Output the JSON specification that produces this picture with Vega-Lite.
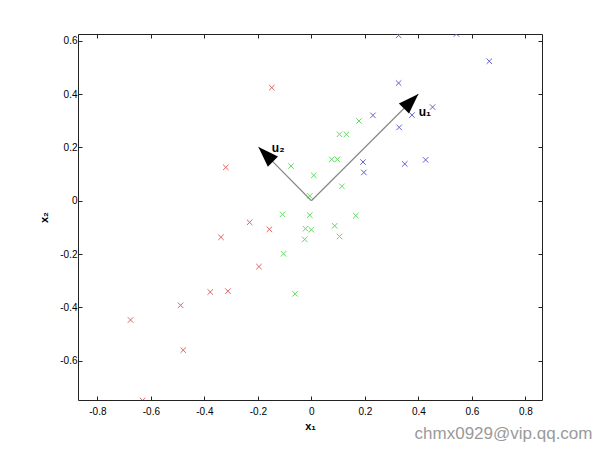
{
  "$schema": "https://vega.github.io/schema/vega-lite/v6.json",
  "width": 464,
  "height": 366,
  "autosize": "none",
  "padding": {"left": 78, "top": 34, "right": 58, "bottom": 50},
  "background": "white",
  "config": {
    "view": {"stroke": "#222", "strokeWidth": 1},
    "axis": {"domain": false, "grid": false, "tickColor": "#222", "tickSize": -4, "labelFont": "Liberation Sans", "labelFontSize": 10, "labelColor": "#000", "titleFont": "Liberation Sans", "titleFontSize": 11, "titleFontWeight": "bold", "titleColor": "#000"}
  },
  "title": {"text": "chmx0929@vip.qq.com", "orient": "bottom", "anchor": "end", "dx": 50, "offset": -5, "fontSize": 17, "fontWeight": "normal", "color": "#9a9a9a", "font": "Liberation Sans"},
  "datasets": {
    "pts": [
      {"x": -0.148, "y": 0.424, "c": "r"}, {"x": -0.320, "y": 0.125, "c": "r"}, {"x": -0.231, "y": -0.081, "c": "r"}, {"x": -0.157, "y": -0.107, "c": "r"},
      {"x": -0.338, "y": -0.137, "c": "r"}, {"x": -0.196, "y": -0.247, "c": "r"}, {"x": -0.378, "y": -0.342, "c": "r"}, {"x": -0.312, "y": -0.339, "c": "r"},
      {"x": -0.489, "y": -0.392, "c": "r"}, {"x": -0.676, "y": -0.447, "c": "r"}, {"x": -0.479, "y": -0.560, "c": "r"}, {"x": -0.631, "y": -0.749, "c": "r"},
      {"x": -0.076, "y": 0.130, "c": "g"}, {"x": 0.178, "y": 0.299, "c": "g"}, {"x": 0.105, "y": 0.249, "c": "g"}, {"x": 0.131, "y": 0.249, "c": "g"},
      {"x": 0.076, "y": 0.155, "c": "g"}, {"x": 0.097, "y": 0.155, "c": "g"}, {"x": 0.009, "y": 0.095, "c": "g"}, {"x": 0.114, "y": 0.054, "c": "g"},
      {"x": -0.006, "y": 0.018, "c": "g"}, {"x": -0.006, "y": -0.054, "c": "g"}, {"x": 0.166, "y": -0.056, "c": "g"}, {"x": -0.108, "y": -0.051, "c": "g"},
      {"x": -0.022, "y": -0.105, "c": "g"}, {"x": 0.0, "y": -0.109, "c": "g"}, {"x": 0.087, "y": -0.094, "c": "g"}, {"x": -0.025, "y": -0.145, "c": "g"},
      {"x": 0.105, "y": -0.134, "c": "g"}, {"x": -0.104, "y": -0.199, "c": "g"}, {"x": -0.061, "y": -0.349, "c": "g"},
      {"x": 0.326, "y": 0.620, "c": "b"}, {"x": 0.542, "y": 0.625, "c": "b"}, {"x": 0.665, "y": 0.523, "c": "b"}, {"x": 0.326, "y": 0.441, "c": "b"},
      {"x": 0.453, "y": 0.351, "c": "b"}, {"x": 0.230, "y": 0.320, "c": "b"}, {"x": 0.376, "y": 0.321, "c": "b"}, {"x": 0.328, "y": 0.275, "c": "b"},
      {"x": 0.193, "y": 0.145, "c": "b"}, {"x": 0.196, "y": 0.106, "c": "b"}, {"x": 0.349, "y": 0.138, "c": "b"}, {"x": 0.427, "y": 0.153, "c": "b"}
    ],
    "arrows": [
      {"x0": 0, "y0": 0, "x": 0.4, "y": 0.4, "angle": 45, "label": "u₁", "lx": 0.401, "ly": 0.332},
      {"x0": 0, "y0": 0, "x": -0.198, "y": 0.201, "angle": -45, "label": "u₂", "lx": -0.148, "ly": 0.198}
    ]
  },
  "layer": [
    {
      "data": {"name": "pts"},
      "mark": {"type": "point", "shape": "M-1,-1L1,1M1,-1L-1,1", "filled": false, "size": 30, "strokeWidth": 1, "opacity": 1, "clip": true},
      "encoding": {
        "x": {"field": "x", "type": "quantitative", "scale": {"domain": [-0.8725, 0.862], "nice": false, "zero": false},
              "axis": {"orient": "bottom", "values": [-0.8, -0.6, -0.4, -0.2, 0, 0.2, 0.4, 0.6, 0.8], "labelExpr": "'' + datum.value", "labelPadding": 10, "title": "x₁", "titlePadding": 4}},
        "y": {"field": "y", "type": "quantitative", "scale": {"domain": [-0.747, 0.625], "nice": false, "zero": false},
              "axis": {"orient": "left", "values": [-0.6, -0.4, -0.2, 0, 0.2, 0.4, 0.6], "labelExpr": "'' + datum.value", "labelPadding": 5, "title": "x₂", "titlePadding": 10}},
        "color": {"field": "c", "type": "nominal", "scale": {"domain": ["r", "g", "b"], "range": ["#e06262", "#5fdc5f", "#6262d6"]}, "legend": null}
      }
    },
    {
      "data": {"name": "arrows"},
      "mark": {"type": "rule", "color": "#888", "strokeWidth": 1.2},
      "encoding": {
        "x": {"field": "x0", "type": "quantitative", "axis": {"orient": "top", "values": [-0.8, -0.6, -0.4, -0.2, 0, 0.2, 0.4, 0.6, 0.8], "labels": false, "title": null}},
        "y": {"field": "y0", "type": "quantitative", "axis": {"orient": "right", "values": [-0.6, -0.4, -0.2, 0, 0.2, 0.4, 0.6], "labels": false, "title": null}},
        "x2": {"field": "x"},
        "y2": {"field": "y"}
      }
    },
    {
      "data": {"name": "arrows"},
      "mark": {"type": "point", "shape": "M0,0L-0.7,2L0.7,2Z", "filled": true, "color": "#000", "size": 420, "opacity": 1},
      "encoding": {
        "x": {"field": "x", "type": "quantitative", "axis": null},
        "y": {"field": "y", "type": "quantitative", "axis": null},
        "angle": {"field": "angle", "type": "quantitative", "scale": null}
      }
    },
    {
      "data": {"name": "arrows"},
      "mark": {"type": "text", "align": "left", "baseline": "middle", "font": "Liberation Sans", "fontSize": 12, "fontWeight": "bold", "color": "#000"},
      "encoding": {
        "x": {"field": "lx", "type": "quantitative", "axis": null},
        "y": {"field": "ly", "type": "quantitative", "axis": null},
        "text": {"field": "label"}
      }
    }
  ],
  "resolve": {"axis": {"x": "independent", "y": "independent"}}
}
